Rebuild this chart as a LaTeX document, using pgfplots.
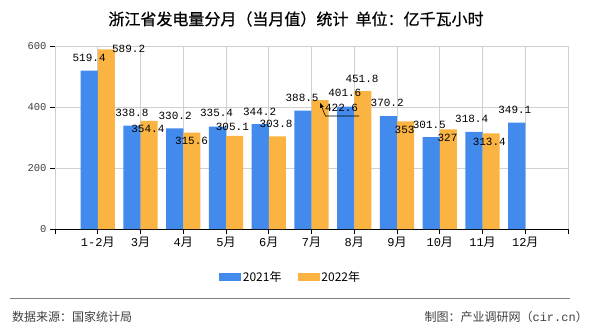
\documentclass[border=0pt]{standalone}
\usepackage{pgfplots}
\pgfplotsset{compat=1.18}
\usepackage{pgfplotstable}
\usepackage{fontspec}
\setmainfont{Noto Sans CJK SC}
\newfontfamily\titlefont{Noto Sans CJK SC}[FakeBold=0.6]
\newfontfamily\mono{Liberation Mono}
\usetikzlibrary{arrows.meta}
\definecolor{cblue}{RGB}{66,139,236}
\definecolor{corange}{RGB}{251,180,65}
\definecolor{gridc}{RGB}{208,208,208}

\pgfplotstableread{
x y dx dy
0 519.4 0 12.3
1 338.8 0 13
2 330.2 0.5 12.3
3 335.4 -0.8 13.4
4 344.2 -0.5 12.3
5 388.5 -0.8 12.2
6 401.6 -0.8 13.2
7 370.2 -1.2 12.8
8 301.5 -1.8 12
9 318.4 -2.2 12.6
10 349.1 -1.8 12.5
}\tblA
\pgfplotstableread{
x y dx dy
0 589.2 22.3 0.3
1 354.4 -1.2 -8.4
2 315.6 -0.3 -8
3 305.1 -2.2 8.6
4 303.8 -1.3 12.3
5 422.6 21.5 -8.2
6 451.8 -0.8 12.2
7 353 -1 -8.7
8 327 -0.8 -8.4
9 313.4 -1.8 -8.6
}\tblB

\begin{document}
\begin{tikzpicture}
\fill[white] (0,0) rectangle (590pt,330pt);
\useasboundingbox (0,0) rectangle (590pt,330pt);
\begin{axis}[
  at={(55pt,101pt)}, anchor=south west,
  scale only axis, width=513pt, height=183pt,
  xmin=-1, xmax=11, ymin=0, ymax=600,
  xtick={0,...,10},
  xticklabels={{\mono 1-2}月,{\mono 3}月,{\mono 4}月,{\mono 5}月,{\mono 6}月,{\mono 7}月,{\mono 8}月,{\mono 9}月,{\mono 10}月,{\mono 11}月,{\mono 12}月},
  extra x ticks={-1,11}, extra x tick labels={},
  extra x tick style={grid=major},
  ytick={0,200,400,600},
  xmajorgrids, ymajorgrids,
  major grid style={gridc, line width=0.8pt},
  axis x line*=bottom, axis y line*=left,
  axis line style={black, line width=0.8pt},
  tick align=outside, major tick length=5pt,
  tick style={black, line width=0.8pt},
  /pgf/number format/assume math mode=true,
  xticklabel style={font=\fontsize{12}{12}\selectfont, text=black},
  yticklabel style={font=\mono\fontsize{10.5}{10.5}\selectfont, text=black!75},
  legend style={at={(0.5,0)}, anchor=center, xshift=-21pt, yshift=-48pt,
    draw=none, fill=none, font=\fontsize{12}{12}\selectfont,
    /tikz/every even column/.append style={column sep=14pt}},
  legend columns=2,
]
\addplot[ybar, bar width=0.4, bar shift=-0.2, fill=cblue, draw=none,
  legend image code/.code={\fill[cblue] (0pt,-4pt) rectangle (22pt,4pt);},
  visualization depends on={\thisrow{dx} \as \dx},
  visualization depends on={\thisrow{dy} \as \dy},
  nodes near coords,
  every node near coord/.append style={anchor=center, xshift={\dx-8.6}, yshift=\dy,
    font=\mono\fontsize{11}{11}\selectfont, text=black}] table[x=x,y=y] {\tblA};
\addlegendentry{2021年}
\addplot[ybar, bar width=0.4, bar shift=0.2, fill=corange, draw=none,
  legend image code/.code={\fill[corange] (0pt,-4pt) rectangle (22pt,4pt);},
  visualization depends on={\thisrow{dx} \as \dx},
  visualization depends on={\thisrow{dy} \as \dy},
  nodes near coords,
  every node near coord/.append style={anchor=center, xshift={\dx+8.6}, yshift=\dy,
    font=\mono\fontsize{11}{11}\selectfont, text=black}] table[x=x,y=y] {\tblB};
\addlegendentry{2022年}
\draw[black, line width=0.6pt, {Latex[length=5pt,width=4pt]}-] (axis cs:5.2,414) -- (axis cs:5.326,370.5) -- (axis cs:6.116,370.5);
\end{axis}
\node[font=\titlefont\fontsize{16}{16}\selectfont, text=black] at (296pt,311pt) {浙江省发电量分月（当月值）统计\ \ 单位：亿千瓦小时};
\draw[black!50, line width=1pt] (10pt,32pt) -- (570pt,32pt);
\node[anchor=west, font=\fontsize{12}{12}\selectfont, text=black!75, inner sep=0pt] at (12pt,13pt) {数据来源：国家统计局};
\node[anchor=east, font=\fontsize{12}{12}\selectfont, text=black!75, inner sep=0pt] at (588pt,13pt) {制图：产业调研网（{\mono cir.cn}）};
\end{tikzpicture}
\end{document}
